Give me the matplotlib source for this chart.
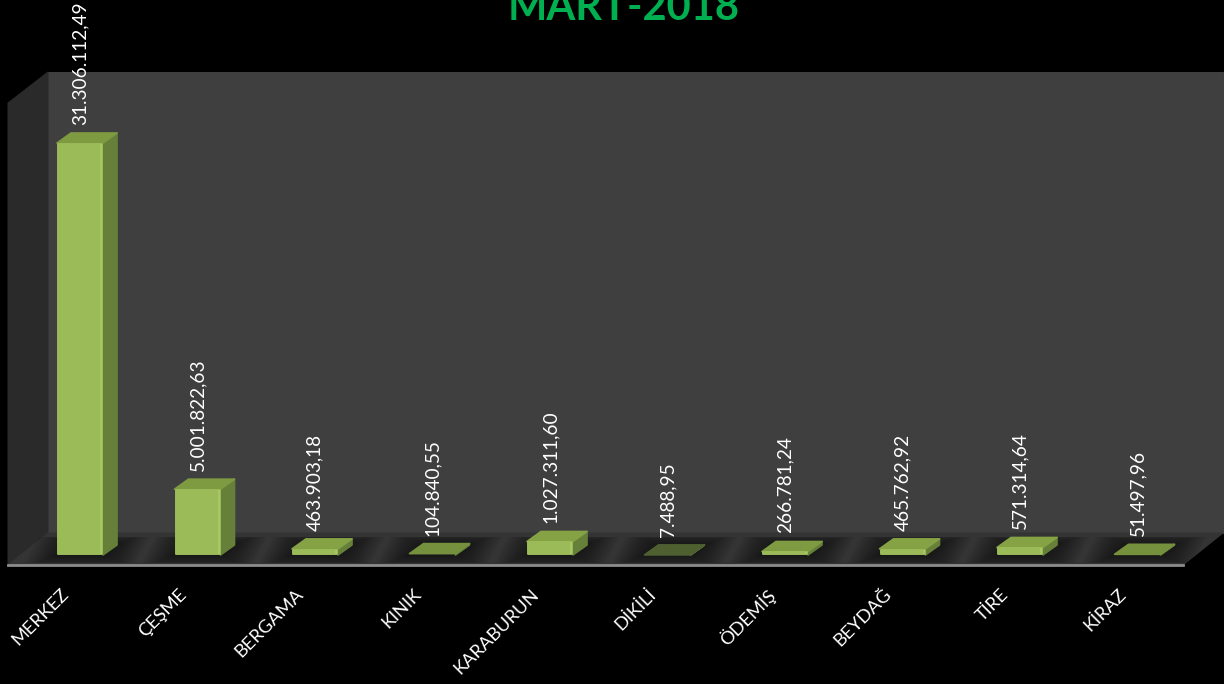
import matplotlib
matplotlib.use('Agg')
import matplotlib.pyplot as plt
from matplotlib.patches import Polygon
from matplotlib.transforms import ScaledTranslation

districts = ['MERKEZ', 'ÇEŞME', 'BERGAMA', 'KINIK', 'KARABURUN', 'DİKİLİ', 'ÖDEMİŞ', 'BEYDAĞ', 'TİRE', 'KİRAZ']
amounts = [31306112.49, 5001822.63, 463903.18, 104840.55, 1027311.60, 7488.95, 266781.24, 465762.92, 571314.64, 51497.96]
amount_labels = ['31.306.112,49', '5.001.822,63', '463.903,18', '104.840,55', '1.027.311,60',
                 '7.488,95', '266.781,24', '465.762,92', '571.314,64', '51.497,96']
title = 'MART-2018'

plt.rcParams['font.family'] = ['Lato', 'DejaVu Sans']

W, H = 1224, 684
fig = plt.figure(figsize=(W / 100, H / 100), dpi=100, facecolor='black')
# axes box is the front of the 3d chart
ax = fig.add_axes([8 / W, 1 - 565 / H, 1175 / W, 462 / H], facecolor='none')

val_per_px = amounts[0] / 412
x_per_px = 1 / 117.5
ax.set_xlim(-72 * x_per_px, 1103 * x_per_px)
ax.set_ylim(-10 * val_per_px, 452 * val_per_px)


def px_x(n):
    return n * x_per_px


def px_y(n):
    return n * val_per_px


def face(pts, color, z=2, edge=None, lw=0.7):
    ax.add_patch(Polygon(pts, closed=True, facecolor=color, edgecolor=edge or color, linewidth=lw,
                         joinstyle='round', clip_on=False, zorder=z))


# walls and floor
x0, x1 = ax.get_xlim()
y0, y1 = ax.get_ylim()
wall_dx, wall_dy = px_x(40), px_y(32)
face([(x0 + wall_dx, y0 + wall_dy), (x1 + wall_dx, y0 + wall_dy), (x1 + wall_dx, y1 + px_y(31)), (x0 + wall_dx, y1 + px_y(31))],
     '#3f3f3f', z=0)
face([(x0, y0), (x0 + wall_dx, y0 + wall_dy), (x0 + wall_dx, y1 + px_y(31)), (x0, y1)], '#2a2a2a', z=0)
face([(x0, y0), (x1, y0), (x1 + wall_dx, y0 + wall_dy), (x0 + wall_dx, y0 + wall_dy)], '#343434', z=0)

bar_w = px_x(46)
depth_x, depth_y = px_x(14), px_y(10)
# tiny values only show a dim top face
top_colors = ['#7f9b42', '#7f9b42', '#85a244', '#76913e', '#85a244', '#4f6030', '#7f9b42', '#85a244', '#85a244', '#76913e']

for i, (v, lab) in enumerate(zip(amounts, amount_labels)):
    left, right = i - bar_w / 2, i + bar_w / 2
    # soft shadow on the floor, stacked thin layers
    for grow in range(32, 0, -3):
        g = px_x(grow)
        gy = px_y(min(grow * 0.4, 8))
        face([(left - g, -gy), (right + g, -gy), (right + g + depth_x, depth_y + gy), (left - g + depth_x, depth_y + gy)],
             (0, 0, 0, 0.06), z=1, edge='none', lw=0)
    face([(right, 0), (right + depth_x, depth_y), (right + depth_x, v + depth_y), (right, v)], '#66803a', z=3, lw=1.2)
    face([(left, v), (right, v), (right + depth_x, v + depth_y), (left + depth_x, v + depth_y)], top_colors[i], z=3, lw=1.2)
    if v > px_y(3):
        # front face with rounded corners and a lighter bevel on the right and top
        face([(left + px_x(1), px_y(1)), (right - px_x(1), px_y(1)), (right - px_x(1), v - px_y(1)), (left + px_x(1), v - px_y(1))],
             '#9bbb59', z=4, lw=1.4)
        face([(right - px_x(3), px_y(1)), (right - px_x(1), px_y(1)), (right - px_x(1), v - px_y(1)), (right - px_x(3), v - px_y(1))],
             '#a6c763', z=4, lw=0)
    ax.annotate(lab, (i, v + depth_y), xytext=(0, 5.8), textcoords='offset points', rotation=90,
                ha='center', va='bottom', color='white', fontsize=13.7, zorder=5, annotation_clip=False)

# floor front edge
ax.axhline(y0, color='#8c8c8c', linewidth=2.0, zorder=6, clip_on=False)

for s in ax.spines.values():
    s.set_visible(False)
ax.set_yticks([])
ax.set_xticks(range(len(districts)))
ax.set_xticklabels(districts, rotation=45, ha='right', va='top', rotation_mode='anchor', color='white', fontsize=13.2)
ax.tick_params(axis='x', length=0, pad=15)
shift = ScaledTranslation(-14 / 72, 0, fig.dpi_scale_trans)
for t in ax.get_xticklabels():
    t.set_transform(t.get_transform() + shift)

fig.text(624 / W, 1 - 20 / H, title, color='#00b050', fontsize=30, fontweight='bold', ha='center', va='baseline')

fig.savefig('out.png', dpi=100, facecolor='black')
